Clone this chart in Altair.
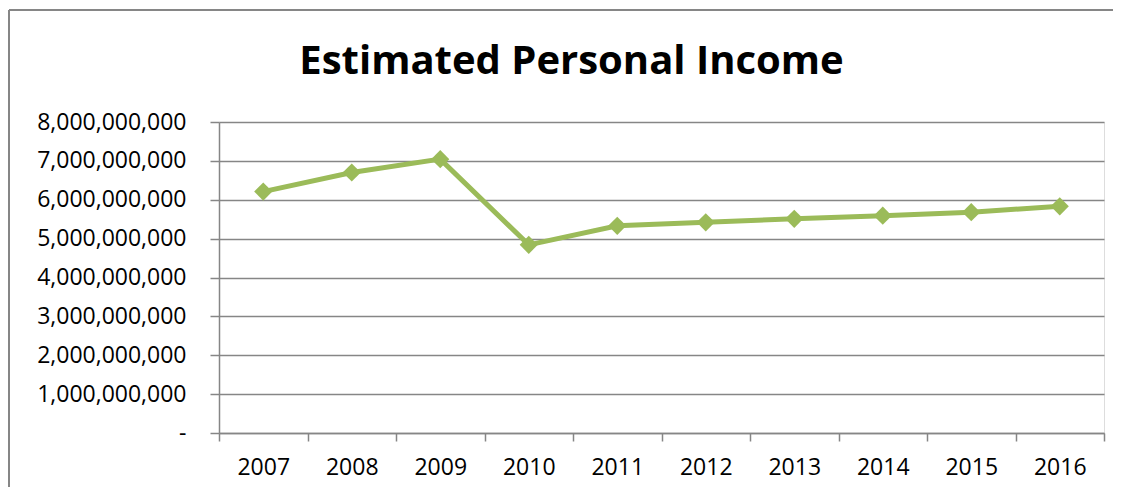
import altair as alt
import pandas as pd

years = ["2007", "2008", "2009", "2010", "2011", "2012", "2013", "2014", "2015", "2016"]
income = [6210000000, 6700000000, 7045000000, 4840000000, 5330000000,
          5420000000, 5510000000, 5590000000, 5680000000, 5830000000]
y_ticks = [0, 1000000000, 2000000000, 3000000000, 4000000000,
           5000000000, 6000000000, 7000000000, 8000000000]

df = pd.DataFrame({"Year": years, "Income": income})

FONT = "Open Sans"
GREEN = "#9BBB59"
GRAY = "#868686"

x_enc = alt.X("Year:O", sort=years, scale=alt.Scale(paddingInner=0, paddingOuter=0),
              axis=alt.Axis(title=None, labelAngle=0, tickBand="extent", tickSize=8,
                            labelPadding=15, labelFont=FONT, labelFontSize=23,
                            labelColor="#000000", domainColor=GRAY, tickColor=GRAY,
                            domainWidth=1.5, tickWidth=1.5, grid=False))
y_enc = alt.Y("Income:Q", scale=alt.Scale(domain=[0, 8000000000], nice=False),
              axis=alt.Axis(title=None, values=y_ticks,
                            labelExpr="datum.value == 0 ? '-' : format(datum.value, ',')",
                            tickSize=9, labelPadding=24, labelFont=FONT, labelFontSize=23,
                            labelColor="#000000", domainColor=GRAY, tickColor=GRAY,
                            domainWidth=1.5, tickWidth=1.5, grid=True, gridColor=GRAY,
                            gridWidth=1.5))

line = alt.Chart(df).mark_line(
    color=GREEN, strokeWidth=5,
    point=alt.OverlayMarkDef(shape="diamond", size=330, filled=True, color=GREEN, opacity=1)
).encode(x=x_enc, y=y_enc)

frame = alt.Data(values=[{"a": 1}])
border_top = alt.Chart(frame).mark_rule(stroke=GRAY, strokeWidth=2).encode(
    x=alt.value(-210), x2=alt.value(894), y=alt.value(-112))
border_left = alt.Chart(frame).mark_rule(stroke=GRAY, strokeWidth=2).encode(
    x=alt.value(-210), y=alt.value(-112), y2=alt.value(365))

chart = alt.layer(border_top, border_left, line).properties(
    width=885, height=311,
    title=alt.TitleParams("Estimated Personal Income", font=FONT, fontSize=40,
                          fontWeight="bold", color="#000000", anchor="middle",
                          dx=-90, dy=149, offset=44, baseline="alphabetic"),
    autosize=alt.AutoSizeParams(type="none"),
    padding={"left": 211, "top": 114, "right": 10, "bottom": 55},
).configure_view(stroke=None).configure(background="white")

chart.save("out.html", embed_options={"renderer": "svg", "actions": False})
